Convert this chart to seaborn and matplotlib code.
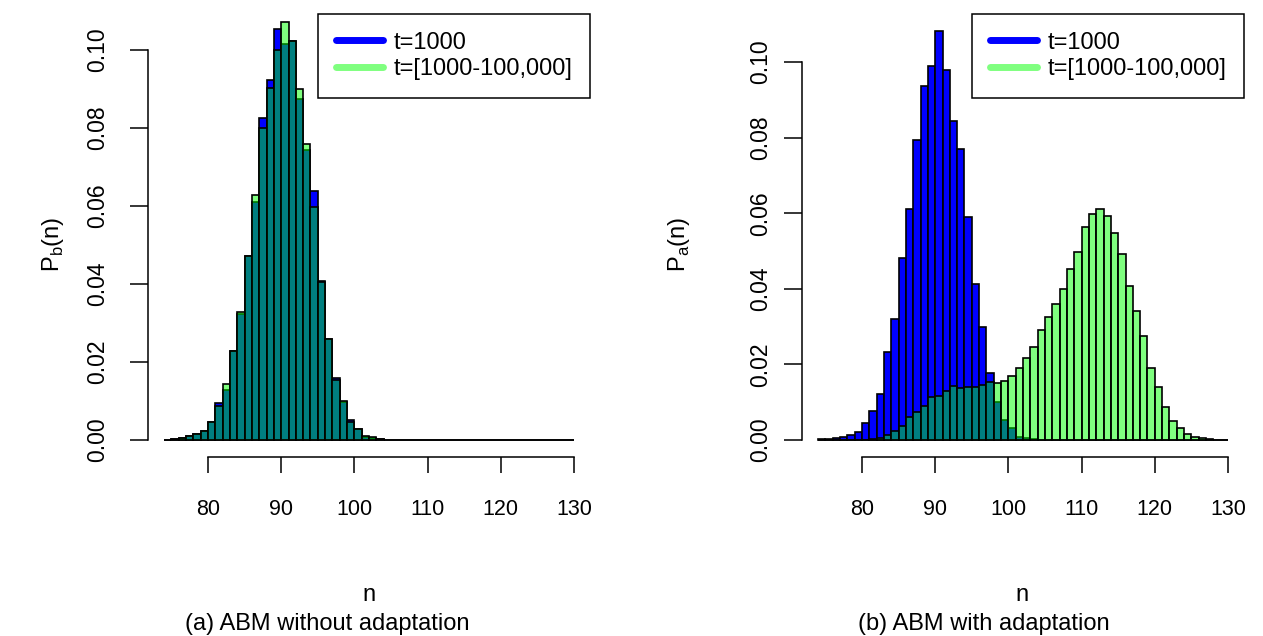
import numpy as np
import pandas as pd
import seaborn as sns
import matplotlib.pyplot as plt
from matplotlib.lines import Line2D

# bins n = 74 .. 129 (width 1)
n_values = list(range(74, 130))
tail_zeros = [0.0] * 26

# (a) without adaptation
pb_t1000 = [0.0001, 0.0003, 0.0005, 0.0010, 0.0015, 0.0023, 0.0045, 0.0096, 0.0129, 0.0229,
            0.0322, 0.0471, 0.0610, 0.0825, 0.0924, 0.1055, 0.1016, 0.1022, 0.0874, 0.0743,
            0.0638, 0.0408, 0.0260, 0.0160, 0.0097, 0.0051, 0.0027, 0.0008, 0.0005, 0.0002] + tail_zeros
pb_tall = [0.0001, 0.0003, 0.0005, 0.0010, 0.0015, 0.0023, 0.0045, 0.0088, 0.0144, 0.0229,
           0.0328, 0.0471, 0.0627, 0.0799, 0.0902, 0.1001, 0.1071, 0.1022, 0.0900, 0.0758,
           0.0597, 0.0405, 0.0260, 0.0155, 0.0100, 0.0046, 0.0027, 0.0010, 0.0007, 0.0003] + tail_zeros

# (b) with adaptation
pa_t1000 = [0.0002, 0.0003, 0.0004, 0.0007, 0.0013, 0.0022, 0.0044, 0.0077, 0.0121, 0.0234,
            0.0320, 0.0481, 0.0610, 0.0794, 0.0937, 0.0990, 0.1083, 0.0980, 0.0845, 0.0770,
            0.0591, 0.0412, 0.0300, 0.0178, 0.0100, 0.0053, 0.0031, 0.0009, 0.0004, 0.0002] + tail_zeros
pa_tall = [0.0, 0.0, 0.0, 0.0, 0.0001, 0.0001, 0.0001, 0.0002, 0.0004, 0.0013,
           0.0025, 0.0037, 0.0060, 0.0075, 0.0090, 0.0113, 0.0116, 0.0130, 0.0143, 0.0137,
           0.0141, 0.0139, 0.0146, 0.0154, 0.0150, 0.0155, 0.0169, 0.0191, 0.0216, 0.0245,
           0.0291, 0.0325, 0.0360, 0.0399, 0.0452, 0.0498, 0.0564, 0.0597, 0.0610, 0.0593,
           0.0548, 0.0491, 0.0407, 0.0341, 0.0276, 0.0191, 0.0141, 0.0086, 0.0051, 0.0031,
           0.0015, 0.0009, 0.0004, 0.0002, 0.0001, 0.0]

labels = ["t=1000", "t=[1000-100,000]"]
y_ticks = [0.0, 0.02, 0.04, 0.06, 0.08, 0.10]
x_ticks = [80, 90, 100, 110, 120, 130]

BLUE = (0, 0, 1, 1)
GREEN = (0, 1, 0, 0.5)

sns.set_style("ticks")
plt.rcParams["font.family"] = ["Liberation Sans", "DejaVu Sans"]
plt.rcParams["mathtext.fontset"] = "custom"
plt.rcParams["mathtext.rm"] = "Liberation Sans"
plt.rcParams["text.color"] = "black"
plt.rcParams["axes.labelcolor"] = "black"
plt.rcParams["xtick.color"] = "black"
plt.rcParams["ytick.color"] = "black"
plt.rcParams["axes.edgecolor"] = "black"

fig = plt.figure(figsize=(12.63, 6.36), dpi=100)
ax1 = fig.add_axes([0.11694, 0.28145, 0.35052, 0.69654])
ax2 = fig.add_axes([0.63476, 0.28145, 0.35052, 0.69654])

bins = list(range(74, 131))


def draw_panel(ax, blue_vals, green_vals, ylim, ylabel, ylabel_x, ypad):
    df = pd.DataFrame({"n": [v + 0.5 for v in n_values], "blue": blue_vals, "green": green_vals})
    sns.histplot(data=df, x="n", weights="blue", bins=bins, stat="count", ax=ax,
                 color="blue", edgecolor="black", linewidth=1.2)
    sns.histplot(data=df, x="n", weights="green", bins=bins, stat="count", ax=ax,
                 color="lime", edgecolor="black", linewidth=1.2)
    nb = len(n_values)
    for p in ax.patches[:nb]:
        p.set_alpha(None)
        p.set_facecolor(BLUE)
        p.set_edgecolor("black")
    for p in ax.patches[nb:]:
        p.set_alpha(None)
        p.set_facecolor(GREEN)
        p.set_edgecolor("black")

    ax.set_xlim(71.76, 132.24)
    ax.set_ylim(*ylim)
    ax.set_xticks(x_ticks)
    ax.set_yticks(y_ticks)
    ax.set_yticklabels([f"{v:.2f}" for v in y_ticks], rotation=90, va="center")
    ax.tick_params(axis="x", length=11.5, width=1.1, pad=19, labelsize=15.5)
    ax.tick_params(axis="y", length=13, width=1.1, pad=ypad, labelsize=16.5)
    for side in ["top", "right"]:
        ax.spines[side].set_visible(False)
    ax.spines["left"].set_bounds(0, 0.10)
    ax.spines["bottom"].set_bounds(80, 130)
    ax.spines["left"].set_linewidth(1.1)
    ax.spines["bottom"].set_linewidth(1.1)
    ax.set_xlabel("")
    ax.set_ylabel(ylabel, fontsize=17)
    ax.yaxis.set_label_coords(ylabel_x, 0.48)

    handles = [Line2D([], [], color=BLUE, lw=5, solid_capstyle="round"),
               Line2D([], [], color=GREEN, lw=5, solid_capstyle="round")]
    leg = ax.legend(handles, labels, loc="upper right", bbox_to_anchor=(1.0, 1.0),
                    borderaxespad=0, fancybox=False, framealpha=1, edgecolor="black",
                    fontsize=17, handlelength=2.0, handletextpad=0.45, borderpad=0.75,
                    labelspacing=0.2)
    leg.get_frame().set_linewidth(1.1)


draw_panel(ax1, pb_t1000, pb_tall, (-0.00436, 0.10923), r"P$_\mathregular{b}$(n)", -0.185, 14.5)
draw_panel(ax2, pa_t1000, pa_tall, (-0.0045, 0.1127), r"P$_\mathregular{a}$(n)", -0.248, 8.0)

fig.text(369 / 1263, 1 - 595 / 636, "n", ha="center", va="center", fontsize=17)
fig.text(1022 / 1263, 1 - 595 / 636, "n", ha="center", va="center", fontsize=17)
fig.text(327 / 1263, 1 - 624 / 636, "(a) ABM without adaptation", ha="center", va="center", fontsize=17)
fig.text(984 / 1263, 1 - 624 / 636, "(b) ABM with adaptation", ha="center", va="center", fontsize=17)

fig.savefig("out.png", dpi=100)
